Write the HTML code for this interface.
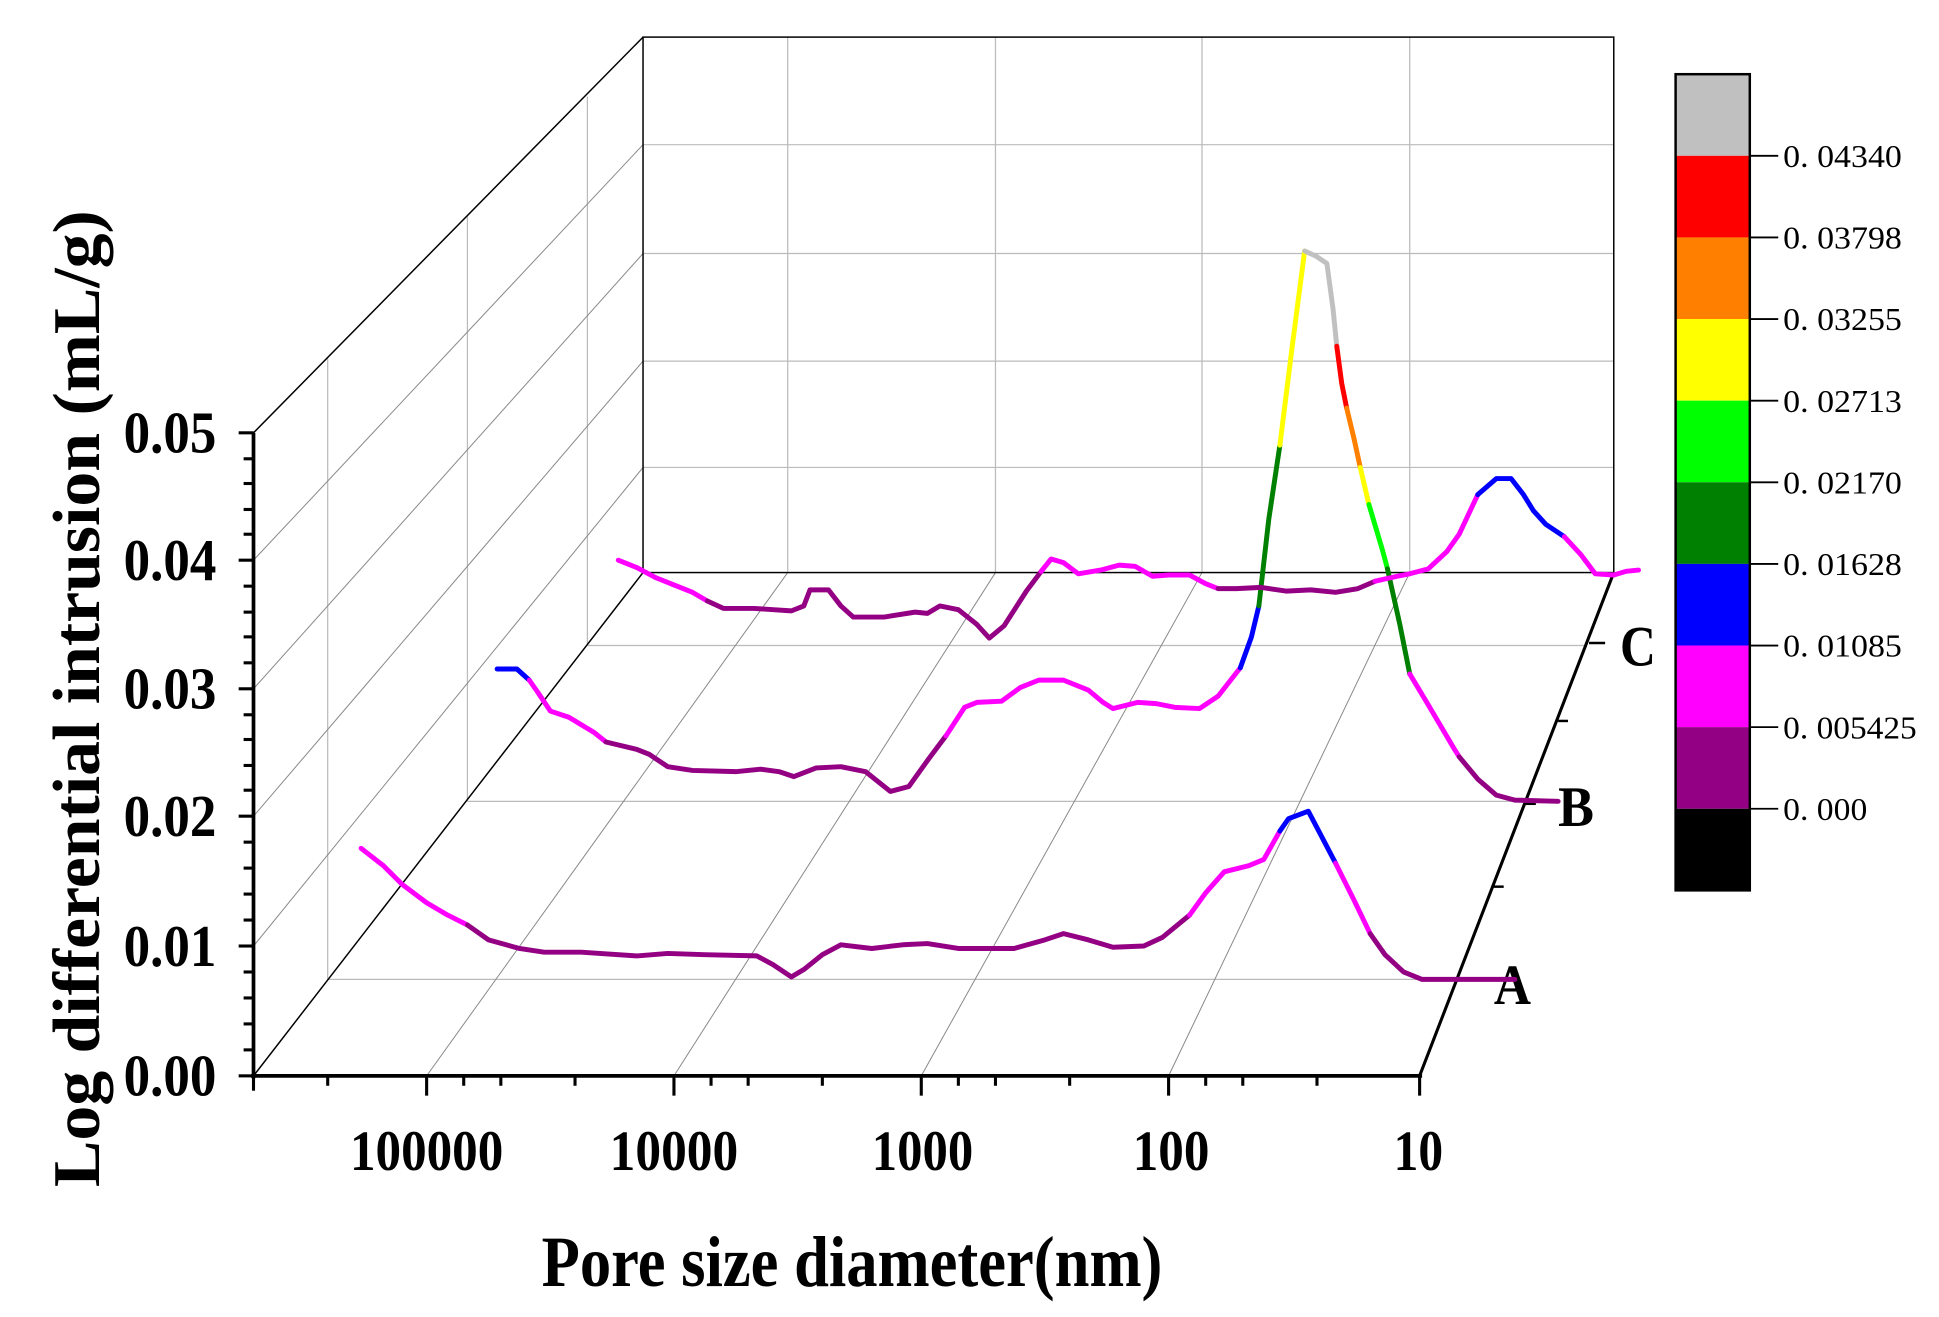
<!DOCTYPE html>
<html><head><meta charset="utf-8"><style>
html,body{margin:0;padding:0;background:#fff;}
svg{display:block;}
text{font-family:"Liberation Serif",serif;}
</style></head><body>
<svg width="1939" height="1317" viewBox="0 0 1568 1065" preserveAspectRatio="none" xmlns="http://www.w3.org/2000/svg">
<rect width="1568" height="1065" fill="#fff"/>
<g stroke="#bbb" stroke-width="1" fill="none">
<line x1="520" y1="117" x2="1305" y2="117"/>
<line x1="520" y1="205" x2="1305" y2="205"/>
<line x1="520" y1="292" x2="1305" y2="292"/>
<line x1="520" y1="378" x2="1305" y2="378"/>
<line x1="637" y1="30" x2="637" y2="463"/>
<line x1="805" y1="30" x2="805" y2="463"/>
<line x1="972" y1="30" x2="972" y2="463"/>
<line x1="1140" y1="30" x2="1140" y2="463"/>
<line x1="265" y1="792" x2="265" y2="290"/>
<line x1="378" y1="648" x2="378" y2="175"/>
<line x1="475" y1="522" x2="475" y2="78"/>
<line x1="265" y1="792" x2="1200" y2="792"/>
<line x1="378" y1="648" x2="1252" y2="648"/>
<line x1="475" y1="522" x2="1282" y2="522"/>
</g>
<g stroke="#888" stroke-width="0.8" fill="none">
<line x1="205" y1="765" x2="520" y2="378"/>
<line x1="205" y1="660" x2="520" y2="292"/>
<line x1="205" y1="557" x2="520" y2="205"/>
<line x1="205" y1="453" x2="520" y2="117"/>
<line x1="345" y1="870" x2="637" y2="463"/>
<line x1="545" y1="870" x2="805" y2="463"/>
<line x1="745" y1="870" x2="972" y2="463"/>
<line x1="945" y1="870" x2="1140" y2="463"/>
</g>
<g stroke="#000" fill="none">
<rect x="520" y="30" width="785" height="433" stroke-width="1.2"/>
<line x1="205" y1="350" x2="520" y2="30" stroke-width="1.2"/>
<line x1="205" y1="870" x2="520" y2="463" stroke-width="1.2"/>
<line x1="1148" y1="870" x2="1305" y2="463" stroke-width="2.5"/>
<line x1="205" y1="350" x2="205" y2="872" stroke-width="3"/>
<line x1="203" y1="870" x2="1150" y2="870" stroke-width="3"/>
<line x1="1285" y1="520" x2="1298" y2="520" stroke-width="2"/>
<line x1="1260" y1="583" x2="1268" y2="583" stroke-width="2"/>
<line x1="1232" y1="650" x2="1242" y2="650" stroke-width="2"/>
<line x1="1208" y1="717" x2="1216" y2="717" stroke-width="2"/>
<line x1="1186" y1="792" x2="1196" y2="792" stroke-width="2"/>
</g>
<g stroke="#000" stroke-width="2.5">
<line x1="193" y1="870" x2="205" y2="870"/><line x1="197" y1="849" x2="205" y2="849"/><line x1="197" y1="828" x2="205" y2="828"/><line x1="197" y1="807" x2="205" y2="807"/><line x1="197" y1="786" x2="205" y2="786"/>
<line x1="193" y1="765" x2="205" y2="765"/><line x1="197" y1="744" x2="205" y2="744"/><line x1="197" y1="723" x2="205" y2="723"/><line x1="197" y1="702" x2="205" y2="702"/><line x1="197" y1="681" x2="205" y2="681"/>
<line x1="193" y1="660" x2="205" y2="660"/><line x1="197" y1="639" x2="205" y2="639"/><line x1="197" y1="619" x2="205" y2="619"/><line x1="197" y1="598" x2="205" y2="598"/><line x1="197" y1="578" x2="205" y2="578"/>
<line x1="193" y1="557" x2="205" y2="557"/><line x1="197" y1="536" x2="205" y2="536"/><line x1="197" y1="515" x2="205" y2="515"/><line x1="197" y1="495" x2="205" y2="495"/><line x1="197" y1="474" x2="205" y2="474"/>
<line x1="193" y1="453" x2="205" y2="453"/><line x1="197" y1="432" x2="205" y2="432"/><line x1="197" y1="412" x2="205" y2="412"/><line x1="197" y1="391" x2="205" y2="391"/><line x1="197" y1="371" x2="205" y2="371"/>
<line x1="193" y1="350" x2="205" y2="350"/>
<line x1="205" y1="870" x2="205" y2="882"/><line x1="265" y1="870" x2="265" y2="878"/>
<line x1="345" y1="870" x2="345" y2="886"/><line x1="375" y1="870" x2="375" y2="878"/><line x1="405" y1="870" x2="405" y2="878"/><line x1="465" y1="870" x2="465" y2="878"/>
<line x1="545" y1="870" x2="545" y2="886"/><line x1="575" y1="870" x2="575" y2="878"/><line x1="605" y1="870" x2="605" y2="878"/><line x1="665" y1="870" x2="665" y2="878"/>
<line x1="745" y1="870" x2="745" y2="886"/><line x1="775" y1="870" x2="775" y2="878"/><line x1="805" y1="870" x2="805" y2="878"/><line x1="865" y1="870" x2="865" y2="878"/>
<line x1="945" y1="870" x2="945" y2="886"/><line x1="975" y1="870" x2="975" y2="878"/><line x1="1005" y1="870" x2="1005" y2="878"/><line x1="1065" y1="870" x2="1065" y2="878"/>
<line x1="1148" y1="870" x2="1148" y2="886"/>
</g>
<g font-weight="bold" font-size="48" fill="#000" lengthAdjust="spacingAndGlyphs">
<text x="100" y="886" textLength="75" lengthAdjust="spacingAndGlyphs">0.00</text>
<text x="100" y="781" textLength="75" lengthAdjust="spacingAndGlyphs">0.01</text>
<text x="100" y="676" textLength="75" lengthAdjust="spacingAndGlyphs">0.02</text>
<text x="100" y="573" textLength="75" lengthAdjust="spacingAndGlyphs">0.03</text>
<text x="100" y="469" textLength="75" lengthAdjust="spacingAndGlyphs">0.04</text>
<text x="100" y="366" textLength="75" lengthAdjust="spacingAndGlyphs">0.05</text>
</g>
<g font-weight="bold" font-size="46" fill="#000">
<text x="283" y="946" textLength="124" lengthAdjust="spacingAndGlyphs">100000</text>
<text x="493" y="946" textLength="104" lengthAdjust="spacingAndGlyphs">10000</text>
<text x="705" y="946" textLength="82" lengthAdjust="spacingAndGlyphs">1000</text>
<text x="916" y="946" textLength="62" lengthAdjust="spacingAndGlyphs">100</text>
<text x="1127" y="946" textLength="40" lengthAdjust="spacingAndGlyphs">10</text>
<text x="438" y="1040" font-size="58" textLength="502" lengthAdjust="spacingAndGlyphs">Pore size diameter(nm)</text>
<text transform="translate(80,960) rotate(-90)" font-size="54" textLength="790" lengthAdjust="spacingAndGlyphs">Log differential intrusion (mL/g)</text>
<text x="1310" y="538" textLength="29" lengthAdjust="spacingAndGlyphs">C</text>
<text x="1260" y="668" textLength="29" lengthAdjust="spacingAndGlyphs">B</text>
<text x="1208" y="812" textLength="30" lengthAdjust="spacingAndGlyphs">A</text>
</g>
<g fill="none" stroke-width="4" stroke-linejoin="round" stroke-linecap="round">
<polyline stroke="#ff00ff" points="292,686 310,700 325,715 345,730 362,740 378,748"/>
<polyline stroke="#940083" points="378,748 395,760 420,767 440,770 470,770 515,773 540,771 570,772 612,773 625,780 640,790 650,784 665,772 680,764 705,767 730,764 750,763 775,767 820,767 845,760 860,755 880,760 900,766 925,765 940,758 962,740"/>
<polyline stroke="#ff00ff" points="962,740 975,722 990,705 1010,700 1022,695 1035,672"/>
<polyline stroke="#0000ff" points="1035,672 1042,662 1058,656 1068,675 1080,698"/>
<polyline stroke="#ff00ff" points="1080,698 1095,728 1108,755"/>
<polyline stroke="#940083" points="1108,755 1120,772 1135,786 1150,792 1225,792"/>
<polyline stroke="#0000ff" points="402,541 418,541 428,550"/>
<polyline stroke="#ff00ff" points="428,550 435,560 445,575 460,580 480,592 490,600"/>
<polyline stroke="#940083" points="490,600 515,606 525,610 540,620 560,623 595,624 615,622 630,624 642,628 660,621 680,620 700,624 710,632 720,640 735,636 750,615 765,595"/>
<polyline stroke="#ff00ff" points="765,595 780,572 790,568 810,567 825,556 840,550 860,550 880,558 892,568 900,573 920,568 935,569 950,572 970,573 985,563 1003,540"/>
<polyline stroke="#0000ff" points="1003,540 1012,515 1018,490"/>
<polyline stroke="#008000" points="1018,490 1026,420 1035,360"/>
<polyline stroke="#ffff00" points="1035,360 1045,280 1055,203"/>
<polyline stroke="#c0c0c0" points="1055,203 1064,207 1073,213 1078,250 1081,280"/>
<polyline stroke="#ff0000" points="1081,280 1085,310 1089,330"/>
<polyline stroke="#ff8000" points="1089,330 1095,355 1100,378"/>
<polyline stroke="#ffff00" points="1100,378 1107,408"/>
<polyline stroke="#00ff00" points="1107,408 1118,445 1122,460"/>
<polyline stroke="#008000" points="1122,460 1132,505 1140,545"/>
<polyline stroke="#ff00ff" points="1140,545 1155,570 1175,604 1180,612"/>
<polyline stroke="#940083" points="1180,612 1195,630 1210,643 1225,647 1260,648"/>
<polyline stroke="#ff00ff" points="500,453 515,459 530,467 545,473 560,479 572,486"/>
<polyline stroke="#940083" points="572,486 585,492 610,492 640,494 650,490 655,477 670,477 680,490 690,499 715,499 740,495 750,496 760,490 775,493 790,505 800,516 812,506 830,478 842,462"/>
<polyline stroke="#ff00ff" points="842,462 850,452 860,455 872,464 890,461 905,457 918,458 932,466 945,465 962,465 975,472 985,476"/>
<polyline stroke="#940083" points="985,476 1000,476 1020,475 1040,478 1060,477 1080,479 1098,476 1112,470"/>
<polyline stroke="#ff00ff" points="1112,470 1130,466 1140,464 1155,460 1170,446 1180,432 1195,400"/>
<polyline stroke="#0000ff" points="1195,400 1210,387 1222,387 1232,400 1240,413 1250,424 1265,434"/>
<polyline stroke="#ff00ff" points="1265,434 1278,448 1290,464 1305,465 1315,462 1325,461"/>
</g>
<g>
<rect x="1355" y="60" width="60" height="66" fill="#c0c0c0"/>
<rect x="1355" y="126" width="60" height="66" fill="#ff0000"/>
<rect x="1355" y="192" width="60" height="66" fill="#ff8000"/>
<rect x="1355" y="258" width="60" height="66" fill="#ffff00"/>
<rect x="1355" y="324" width="60" height="66" fill="#00ff00"/>
<rect x="1355" y="390" width="60" height="66" fill="#008000"/>
<rect x="1355" y="456" width="60" height="66" fill="#0000ff"/>
<rect x="1355" y="522" width="60" height="66" fill="#ff00ff"/>
<rect x="1355" y="588" width="60" height="66" fill="#940083"/>
<rect x="1355" y="654" width="60" height="66" fill="#000"/>
<rect x="1355" y="60" width="60" height="660" fill="none" stroke="#000" stroke-width="2"/>
</g>
<g stroke="#000" stroke-width="1.5">
<line x1="1415" y1="126" x2="1438" y2="126"/><line x1="1415" y1="192" x2="1438" y2="192"/><line x1="1415" y1="258" x2="1438" y2="258"/>
<line x1="1415" y1="324" x2="1438" y2="324"/><line x1="1415" y1="390" x2="1438" y2="390"/><line x1="1415" y1="456" x2="1438" y2="456"/>
<line x1="1415" y1="522" x2="1438" y2="522"/><line x1="1415" y1="588" x2="1438" y2="588"/><line x1="1415" y1="654" x2="1438" y2="654"/>
</g>
<g font-size="26" fill="#000">
<text x="1442" y="135" textLength="96" lengthAdjust="spacingAndGlyphs">0. 04340</text>
<text x="1442" y="201" textLength="96" lengthAdjust="spacingAndGlyphs">0. 03798</text>
<text x="1442" y="267" textLength="96" lengthAdjust="spacingAndGlyphs">0. 03255</text>
<text x="1442" y="333" textLength="96" lengthAdjust="spacingAndGlyphs">0. 02713</text>
<text x="1442" y="399" textLength="96" lengthAdjust="spacingAndGlyphs">0. 02170</text>
<text x="1442" y="465" textLength="96" lengthAdjust="spacingAndGlyphs">0. 01628</text>
<text x="1442" y="531" textLength="96" lengthAdjust="spacingAndGlyphs">0. 01085</text>
<text x="1442" y="597" textLength="108" lengthAdjust="spacingAndGlyphs">0. 005425</text>
<text x="1442" y="663" textLength="68" lengthAdjust="spacingAndGlyphs">0. 000</text>
</g>
</svg>
</body></html>
